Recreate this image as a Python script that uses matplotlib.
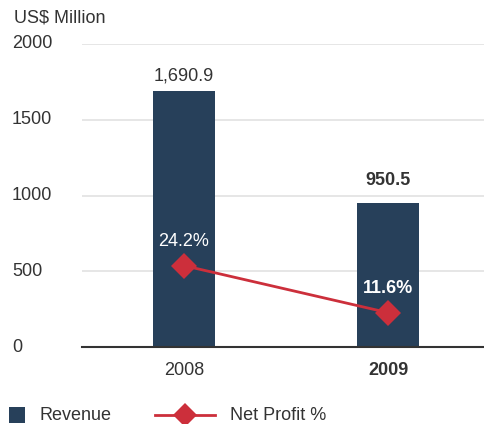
import numpy as np
import matplotlib.pyplot as plt
from matplotlib.lines import Line2D
from matplotlib.patches import Rectangle
from matplotlib.transforms import blended_transform_factory

plt.rcParams['font.family'] = ['Liberation Sans', 'DejaVu Sans']

# Data
years = ['2008', '2009']
revenue = [1690.9, 950.5]          # US$ million
net_profit_pct = [24.2, 11.6]      # %
revenue_labels = ['1,690.9', '950.5']
profit_labels = ['24.2%', '11.6%']

bar_color = '#27405A'
line_color = '#CC2F3B'
text_color = '#333333'
fs = 13

W, H = 485, 424
fig = plt.figure(figsize=(W / 100, H / 100), dpi=100)
ax = fig.add_axes([82 / W, 1 - 347 / H, (485 - 82) / W, (347 - 44) / H])

x = np.arange(len(years))
ax.bar(x, revenue, width=0.305, color=bar_color, zorder=2)
ax.set_xlim(-0.5, 1.475)
ax.set_ylim(0, 2000)
ax.set_yticks([0, 500, 1000, 1500, 2000])
ax.yaxis.grid(True, color='#e2e2e2', linewidth=1.2, zorder=0)
ax.set_axisbelow(True)
for s in ['top', 'right', 'left']:
    ax.spines[s].set_visible(False)
ax.spines['bottom'].set_color('#333333')
ax.spines['bottom'].set_linewidth(1.5)
ax.tick_params(axis='both', length=0, labelsize=fs, colors=text_color)
ax.set_yticklabels([])
ax.set_xticks(x)
ax.set_xticklabels(years)
ax.tick_params(axis='x', pad=11)
ax.get_xticklabels()[1].set_fontweight('bold')

# y tick labels, left aligned at the figure edge
ytrans = blended_transform_factory(fig.transFigure, ax.transData)
for v in ax.get_yticks():
    ax.text(12 / W, v, f'{v:.0f}', transform=ytrans,
            ha='left', va='center', fontsize=fs, color=text_color)
fig.text(14 / W, 1 - 18 / H, 'US$ Million', ha='left', va='center', fontsize=fs, color=text_color)

# revenue labels above the bars
offsets = [15, 22]
weights = ['normal', 'bold']
for i, (v, lab) in enumerate(zip(revenue, revenue_labels)):
    ax.annotate(lab, (x[i], v), xytext=(0, offsets[i]), textcoords='offset pixels',
                ha='center', va='center', fontsize=fs, color=text_color, fontweight=weights[i])

# net profit line on a secondary scale
ax2 = ax.twinx()
ax2.set_ylim(2.4, 83.6)
ax2.axis('off')
ax2.plot(x, net_profit_pct, color=line_color, linewidth=2, marker='D', markersize=13,
         markeredgewidth=0, zorder=3)
for i, (v, lab) in enumerate(zip(net_profit_pct, profit_labels)):
    ax2.annotate(lab, (x[i], v), xytext=(0, 24), textcoords='offset pixels',
                 ha='center', va='center', fontsize=fs, color='white', fontweight=weights[i])

# legend
ly = 1 - 415 / H
fig.patches.append(Rectangle((9 / W, ly - 8 / H), 16 / W, 16 / H, transform=fig.transFigure,
                             facecolor=bar_color, edgecolor='none'))
fig.text(40 / W, ly, 'Revenue', ha='left', va='center', fontsize=fs, color=text_color)
fig.lines.append(Line2D([155 / W, 215 / W], [ly, ly], transform=fig.transFigure,
                        color=line_color, linewidth=2))
fig.lines.append(Line2D([185 / W], [ly], transform=fig.transFigure, color=line_color,
                        marker='D', markersize=12, markeredgewidth=0))
fig.text(230 / W, ly, 'Net Profit %', ha='left', va='center', fontsize=fs, color=text_color)

fig.savefig('out.png', dpi=100)
